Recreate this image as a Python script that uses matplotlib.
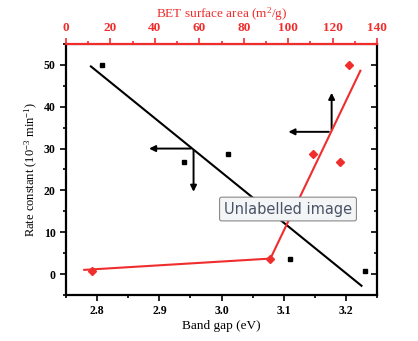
import numpy as np
from matplotlib import pyplot as plt

plt.rcParams['font.family'] = ['Liberation Serif', 'DejaVu Serif']
plt.rcParams['mathtext.fontset'] = 'custom'
plt.rcParams['mathtext.rm'] = 'Liberation Serif'
plt.rcParams['mathtext.it'] = 'Liberation Serif:italic'

RED = '#f02d2d'

# band gap (eV) vs rate constant
band_gap = [2.808, 2.94, 3.01, 3.11, 3.23]
rate = [50.0, 26.8, 28.6, 3.6, 0.8]

# BET surface area (m2/g) vs rate constant
bet_area = [127.5, 123.3, 111.3, 92.0, 11.8]
bet_rate = [50.0, 26.8, 28.6, 3.6, 0.8]

# red guide line through BET data
bet_line_x = [8.2, 92.0, 132.5]
bet_line_y = [1.0, 3.7, 48.6]

# extent of black fit line
fit_range = [2.79, 3.225]

fig = plt.figure(figsize=(4.18, 3.41), dpi=100)
ax = fig.add_axes([0.158, 0.135, 0.744, 0.736])

slope, intercept = np.polyfit(band_gap, rate, 1)
fx = np.array(fit_range)
ax.plot(fx, slope * fx + intercept, color='black', lw=1.5)
ax.plot(band_gap, rate, 's', color='black', ms=3.5, mec='black')

ax.set_xlim(2.75, 3.25)
ax.set_ylim(-5, 55)
ax.set_xticks([2.8, 2.9, 3.0, 3.1, 3.2])
ax.set_xticks(np.arange(2.75, 3.26, 0.05), minor=True)
ax.set_yticks([0, 10, 20, 30, 40, 50])
ax.set_yticks(np.arange(-5, 56, 5), minor=True)
ax.tick_params(which='both', direction='out', width=1.2, labelsize=8.5)
ax.tick_params(which='major', length=4)
ax.tick_params(which='minor', length=2)
ax.tick_params(top=False, right=False)
for lab in ax.get_xticklabels() + ax.get_yticklabels():
    lab.set_fontweight('bold')
ax.set_xlabel('Band gap (eV)', fontsize=9.5, labelpad=2)
ax.set_ylabel('Rate constant (10$^{-3}$ min$^{-1}$)', fontsize=9, labelpad=3)
for s in ['left', 'bottom', 'right']:
    ax.spines[s].set_linewidth(1.6)

# arrows
arrow_kw = dict(arrowstyle='-|>', color='black', lw=1.4, mutation_scale=9)
ax.annotate('', xy=(2.879, 30), xytext=(2.955, 30), arrowprops=arrow_kw)
ax.annotate('', xy=(2.955, 19), xytext=(2.955, 30.2), arrowprops=arrow_kw)
ax.annotate('', xy=(3.103, 34), xytext=(3.177, 34), arrowprops=arrow_kw)
ax.annotate('', xy=(3.177, 44), xytext=(3.177, 33.8), arrowprops=arrow_kw)

# right ticks pointing inward
ax3 = ax.twinx()
ax3.set_ylim(ax.get_ylim())
ax3.set_yticks([0, 10, 20, 30, 40, 50])
ax3.set_yticks(np.arange(-5, 56, 5), minor=True)
ax3.tick_params(which='both', direction='in', width=1.2, labelright=False)
ax3.tick_params(which='major', length=4)
ax3.tick_params(which='minor', length=2)
for s in ax3.spines.values():
    s.set_visible(False)

# top axis, BET
ax2 = ax.twiny()
ax2.plot(bet_line_x, bet_line_y, color=RED, lw=1.5)
ax2.plot(bet_area, bet_rate, 'D', color=RED, ms=4.3)
ax2.set_xlim(0, 140)
ax2.set_xticks(range(0, 141, 20))
ax2.set_xticks(range(0, 141, 10), minor=True)
ax2.tick_params(which='both', colors=RED, width=1.2, labelsize=9.5)
ax2.tick_params(which='major', length=4)
ax2.tick_params(which='minor', length=2)
for lab in ax2.get_xticklabels():
    lab.set_fontweight('bold')
ax2.spines['top'].set_color(RED)
ax2.spines['top'].set_linewidth(1.6)
for s in ['left', 'right', 'bottom']:
    ax2.spines[s].set_visible(False)
ax2.set_xlabel('BET surface area (m$^2$/g)', color=RED, fontsize=9.5, labelpad=3)

# screenshot tooltip
fig.text(0.689, 0.387, 'Unlabelled image', family='DejaVu Sans', fontsize=10.5,
         color='#4a5466', ha='center', va='center',
         bbox=dict(boxstyle='round,pad=0.3,rounding_size=0.15', fc='#f4f5f7', ec='#8a8a8a', lw=0.8))

fig.savefig('out.png', dpi=100)
